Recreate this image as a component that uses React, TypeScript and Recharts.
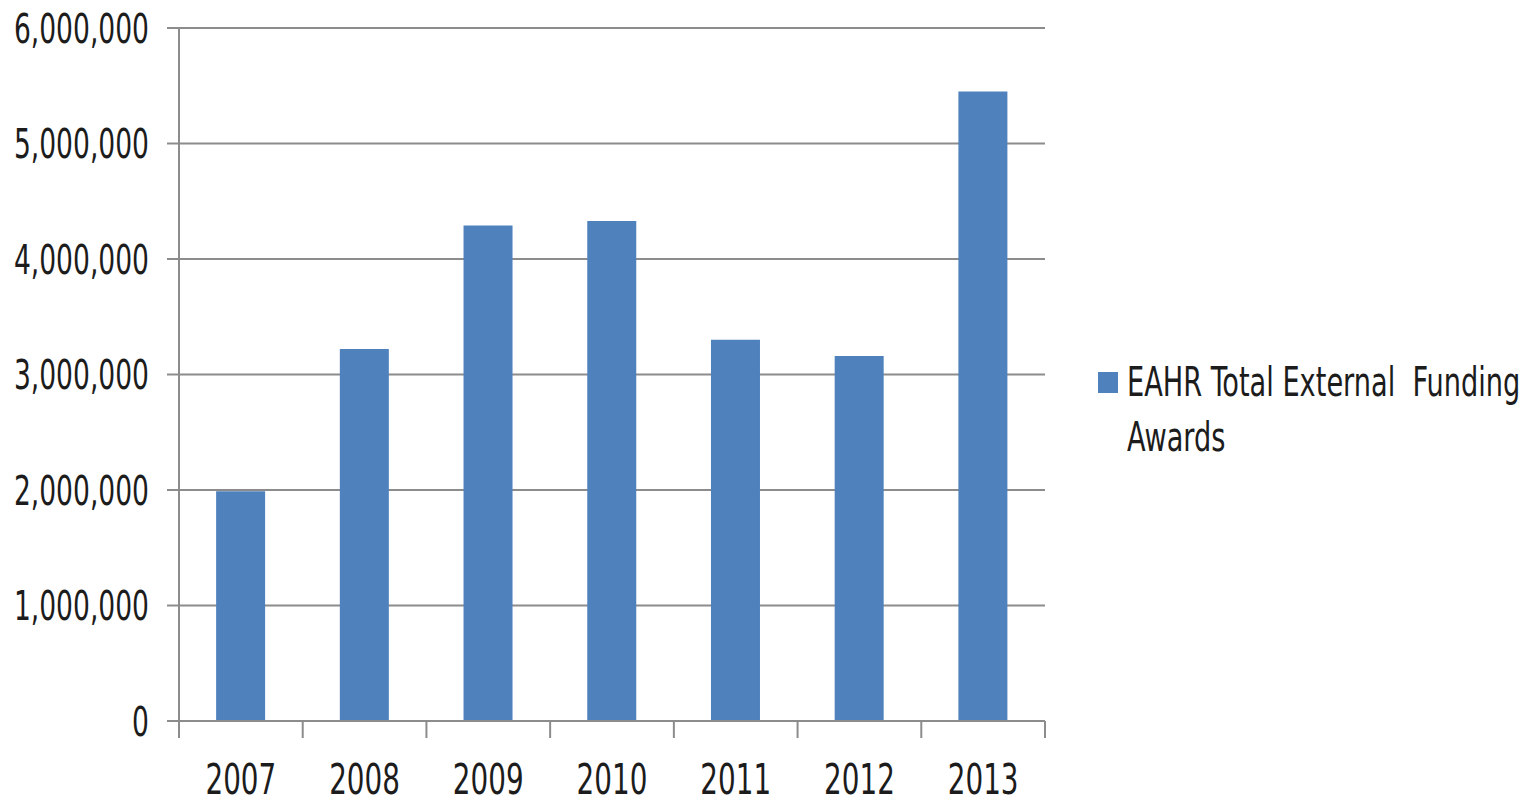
import { BarChart, Bar, XAxis, YAxis, CartesianGrid } from "recharts";

const years = ["2007", "2008", "2009", "2010", "2011", "2012", "2013"];
const awards = [1990000, 3220000, 4290000, 4330000, 3300000, 3160000, 5450000];
const yTicks = [0, 1000000, 2000000, 3000000, 4000000, 5000000, 6000000];
const seriesName = "EAHR Total External  Funding Awards";

const data = years.map((year, i) => ({ year, awards: awards[i] }));

const FONT = "'DejaVu Sans Condensed', 'Liberation Sans Narrow', sans-serif";
const TEXT = "#1c1c1c";
const GRID = "#8c8c8c";
const BAR = "#4f81bd";
const SQUEEZE = "scale(0.82,1.12)";

function YTick({ x, y, payload }: any) {
  return (
    <g transform={`translate(${x},${y}) ${SQUEEZE}`}>
      <text x={0} y={0} dy="0.36em" textAnchor="end" fontFamily={FONT} fontSize={36} fill={TEXT}>
        {Number(payload.value).toLocaleString("en-US")}
      </text>
    </g>
  );
}

function XTick({ x, y, payload, index, visibleTicksCount }: any) {
  const half = payload.offset ?? 61.9;
  const axisY = y - 8;
  return (
    <g>
      <line x1={x - half} x2={x - half} y1={axisY} y2={axisY + 17} stroke={GRID} strokeWidth={2} />
      {index === visibleTicksCount - 1 && (
        <line x1={x + half} x2={x + half} y1={axisY} y2={axisY + 17} stroke={GRID} strokeWidth={2} />
      )}
      <g transform={`translate(${x},${axisY + 58}) scale(0.86,1.16)`}>
        <text x={0} y={0} dy="0.36em" textAnchor="middle" fontFamily={FONT} fontSize={36} fill={TEXT}>
          {payload.value}
        </text>
      </g>
    </g>
  );
}

function LegendBox() {
  const lines = seriesName.split(" Awards");
  return (
    <div
      style={{
        position: "absolute",
        left: 1098,
        top: 361,
        display: "flex",
        alignItems: "flex-start",
        fontFamily: FONT,
        color: TEXT,
      }}
    >
      <div style={{ width: 20, height: 21, background: BAR, marginTop: 11, marginRight: 9 }} />
      <div
        style={{
          fontSize: 36,
          lineHeight: "49px",
          whiteSpace: "pre",
          transform: "scale(0.84,1.12)",
          transformOrigin: "top left",
          marginTop: -6,
        }}
      >
        {lines[0] + "\nAwards"}
      </div>
    </div>
  );
}

export default function App() {
  return (
    <div style={{ position: "absolute", left: 0, top: 0, width: 1530, height: 805, background: "#fff" }}>
      <BarChart
        width={1530}
        height={805}
        data={data}
        margin={{ top: 28, right: 485, left: 0, bottom: 0 }}
        barCategoryGap="30%"
      >
        <CartesianGrid vertical={false} stroke={GRID} strokeWidth={2} />
        <YAxis
          width={179}
          domain={[0, 6000000]}
          ticks={yTicks}
          interval={0}
          tick={<YTick />}
          tickSize={12}
          tickMargin={18}
          tickLine={{ stroke: GRID, strokeWidth: 2 }}
          axisLine={{ stroke: GRID, strokeWidth: 2 }}
        />
        <XAxis
          dataKey="year"
          height={84}
          interval={0}
          tick={<XTick />}
          tickLine={false}
          axisLine={{ stroke: GRID, strokeWidth: 2 }}
        />
        <Bar dataKey="awards" name={seriesName} fill={BAR} isAnimationActive={false} />
      </BarChart>
      <LegendBox />
    </div>
  );
}
